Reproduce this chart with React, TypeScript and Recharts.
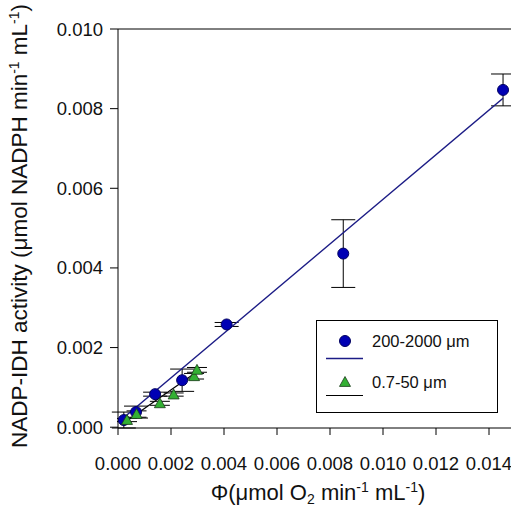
import React from "react";
import {
  ComposedChart,
  Scatter,
  XAxis,
  YAxis,
  ErrorBar,
  ReferenceLine,
} from "recharts";

// 200-2000 µm fraction (circles) with standard deviations
const largePhi = [0.00022, 0.00068, 0.0014, 0.00242, 0.0041, 0.0085, 0.01453];
const largeActivity = [0.00018, 0.00038, 0.00083, 0.00118, 0.00258, 0.00436, 0.00847];
const largeSd = [0.0002, 0.00015, 0.00005, 0.00028, 0.00005, 0.00085, 0.0004];

// 0.7-50 µm fraction (triangles)
const smallPhi = [0.00034, 0.0007, 0.00158, 0.0021, 0.00287, 0.00298];
const smallActivity = [0.00018, 0.00033, 0.0006, 0.00082, 0.00128, 0.00144];
const smallSd = [0.00004, 0.00008, 0.00005, 0.00004, 0.00007, 0.00006];

// regression line end points
const largeFitPhi = [0.0002, 0.01453];
const largeFitActivity = [0.00023, 0.00826];
const smallFitPhi = [0.0002, 0.0031];
const smallFitActivity = [0.0001, 0.00145];

const xTicks = [0, 0.002, 0.004, 0.006, 0.008, 0.01, 0.012, 0.014];
const yTicks = [0, 0.002, 0.004, 0.006, 0.008, 0.01];

const largeData = largePhi.map((x, i) => ({ x, y: largeActivity[i], err: largeSd[i] }));
const smallData = smallPhi.map((x, i) => ({ x, y: smallActivity[i], err: smallSd[i] }));
const largeFit = largeFitPhi.map((x, i) => ({ x, y: largeFitActivity[i] }));
const smallFit = smallFitPhi.map((x, i) => ({ x, y: smallFitActivity[i] }));

const FONT = "'Liberation Sans', Arial, sans-serif";
const BLUE = "#0000b4";
const BLUE_EDGE = "#000060";
const GREEN = "#33b033";
const LINE_BLUE = "#1c1c86";

const Dot = (props: any) => (
  <circle cx={props.cx} cy={props.cy} r={5.5} fill={BLUE} stroke={BLUE_EDGE} strokeWidth={1} />
);

const Tri = (props: any) => {
  const { cx, cy } = props;
  const s = 5.5;
  return (
    <polygon
      points={`${cx},${cy - s} ${cx + s},${cy + s * 0.8} ${cx - s},${cy + s * 0.8}`}
      fill={GREEN}
      stroke="#1a3a1a"
      strokeWidth={0.8}
    />
  );
};

const Nothing = () => <g />;

const fmt = (v: number) => v.toFixed(3);

// tick text drawn by hand so the font size sticks
const XTick = (props: any) => {
  const { x, y, payload } = props;
  return (
    <text x={x} y={y + 13} textAnchor="middle" fontSize={18.5} fontFamily={FONT} fill="#111">
      {fmt(payload.value)}
    </text>
  );
};

const YTick = (props: any) => {
  const { x, y, payload } = props;
  return (
    <text x={x} y={y + 6.5} textAnchor="end" fontSize={18.5} fontFamily={FONT} fill="#111">
      {fmt(payload.value)}
    </text>
  );
};

export default function App() {
  return (
    <div
      style={{
        position: "fixed",
        left: 0,
        top: 0,
        width: 511,
        height: 507,
        overflow: "hidden",
        background: "#fff",
      }}
    >
      <ComposedChart
        width={520}
        height={507}
        margin={{ top: 29, right: 4.5, bottom: 0, left: 0 }}
      >
        <XAxis
          type="number"
          dataKey="x"
          domain={[0, 0.015]}
          ticks={xTicks}
          height={79}
          tickSize={7}
          tickMargin={22}
          stroke="#000"
          tick={<XTick />}
          allowDataOverflow
        />
        <YAxis
          type="number"
          dataKey="y"
          domain={[0, 0.01]}
          ticks={yTicks}
          width={118}
          tickSize={8}
          tickMargin={7}
          stroke="#000"
          tick={<YTick />}
        />
        <ReferenceLine y={0.01} stroke="#000" strokeWidth={1} />
        <ReferenceLine x={0.015} stroke="#000" strokeWidth={1} />
        <Scatter
          data={largeFit}
          line={{ stroke: LINE_BLUE, strokeWidth: 1.5 }}
          shape={Nothing}
          isAnimationActive={false}
        />
        <Scatter
          data={smallFit}
          line={{ stroke: "#000", strokeWidth: 1.2 }}
          shape={Nothing}
          isAnimationActive={false}
        />
        <Scatter data={largeData} shape={Dot} isAnimationActive={false}>
          <ErrorBar dataKey="err" direction="y" width={12} stroke="#000" strokeWidth={1} />
        </Scatter>
        <Scatter data={smallData} shape={Tri} isAnimationActive={false}>
          <ErrorBar dataKey="err" direction="y" width={10} stroke="#000" strokeWidth={1} />
        </Scatter>
      </ComposedChart>

      <svg
        width={511}
        height={507}
        style={{ position: "absolute", left: 0, top: 0, pointerEvents: "none" }}
        fontFamily={FONT}
      >
        {/* axis titles */}
        <text
          x={27}
          y={226}
          transform="rotate(-90, 27, 226)"
          textAnchor="middle"
          fontSize={22.5}
          fill="#111"
        >
          NADP-IDH activity (μmol NADPH min
          <tspan dy={-8} fontSize={14}>-1</tspan>
          <tspan dy={8}> mL</tspan>
          <tspan dy={-8} fontSize={14}>-1</tspan>
          <tspan dy={8}>)</tspan>
        </text>
        <text x={318} y={500} textAnchor="middle" fontSize={22} fill="#111">
          Φ(μmol O
          <tspan dy={4} fontSize={14}>2</tspan>
          <tspan dy={-4}> min</tspan>
          <tspan dy={-8} fontSize={14}>-1</tspan>
          <tspan dy={8}> mL</tspan>
          <tspan dy={-8} fontSize={14}>-1</tspan>
          <tspan dy={8}>)</tspan>
        </text>

        {/* legend */}
        <rect x={316.5} y={320.5} width={181} height={92} fill="#fff" stroke="#000" strokeWidth={1} />
        <circle cx={345} cy={341} r={5.5} fill={BLUE} stroke={BLUE_EDGE} strokeWidth={1} />
        <text x={372} y={347} fontSize={16.5} fill="#111">200-2000 μm</text>
        <line x1={326} x2={363} y1={358.5} y2={358.5} stroke={LINE_BLUE} strokeWidth={1.5} />
        <Tri cx={345} cy={382} />
        <text x={372} y={388} fontSize={16.5} fill="#111">0.7-50 μm</text>
        <line x1={326} x2={363} y1={395.5} y2={395.5} stroke="#000" strokeWidth={1.2} />
      </svg>
    </div>
  );
}
